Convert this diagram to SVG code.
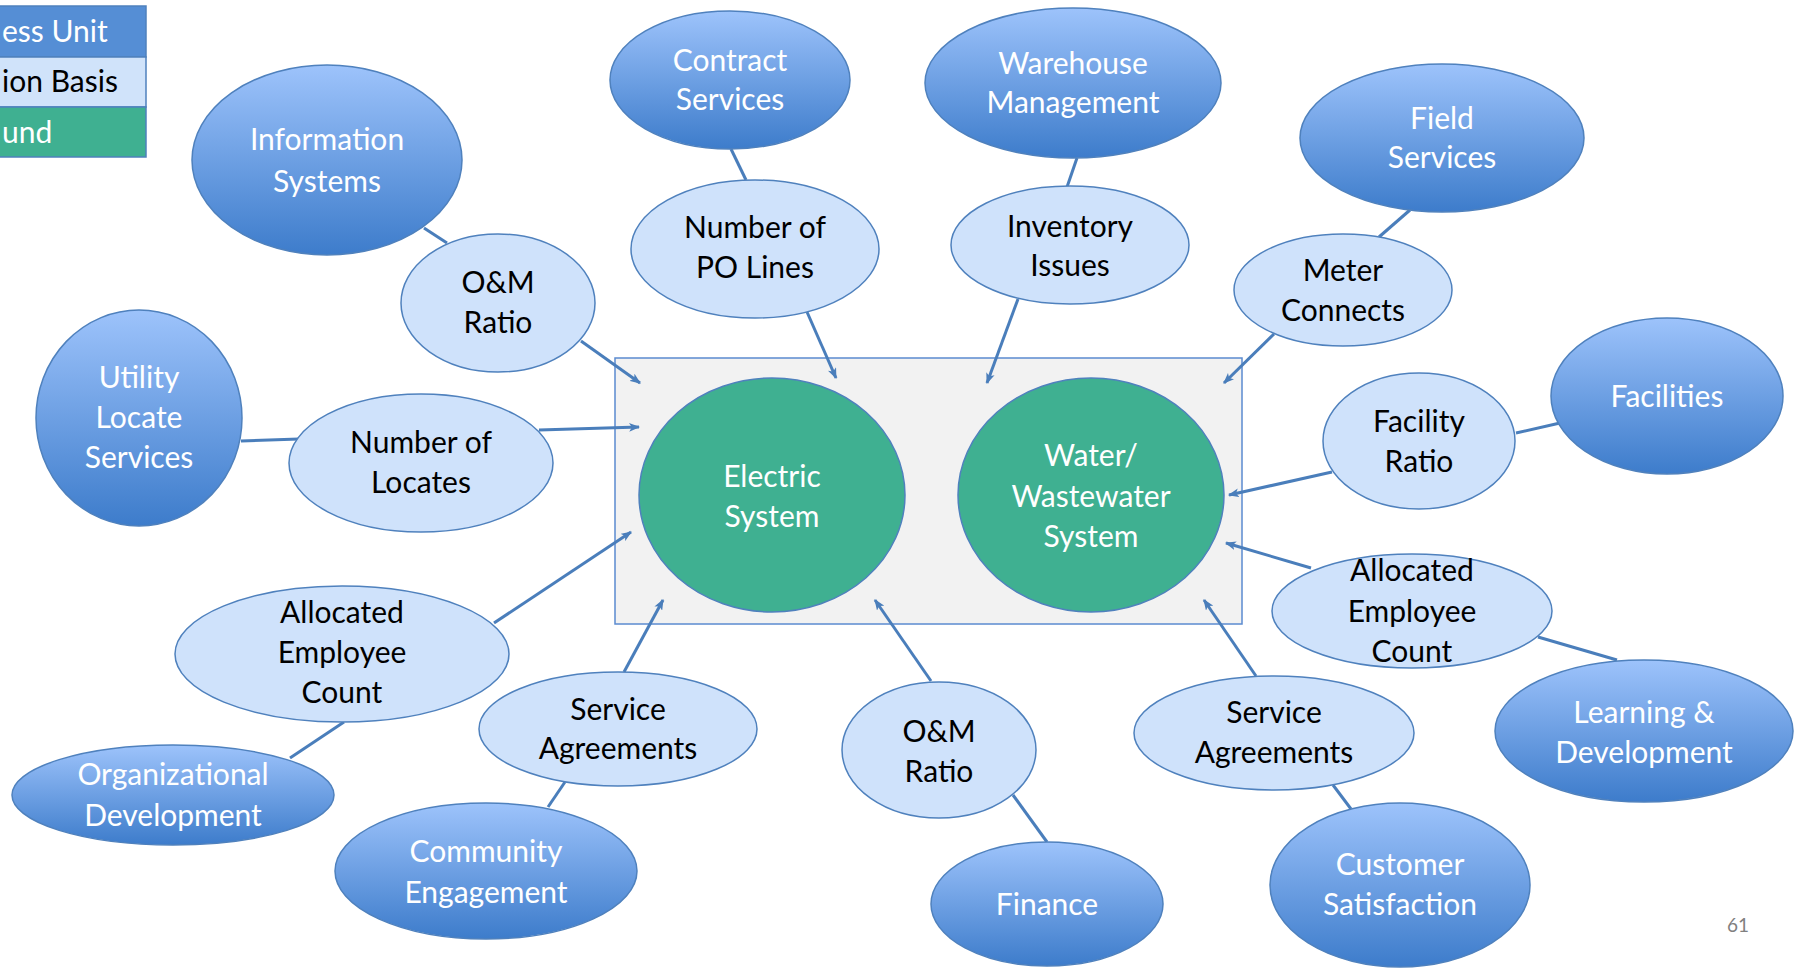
<svg xmlns="http://www.w3.org/2000/svg" width="1796" height="968" viewBox="0 0 1796 968">
<defs>
<linearGradient id="bu" x1="0" y1="0" x2="0" y2="1">
<stop offset="0" stop-color="#9DC3FB"/>
<stop offset="1" stop-color="#3D7CCB"/>
</linearGradient>
<marker id="ah" viewBox="0 0 10 8" refX="9" refY="4" markerWidth="11" markerHeight="9" markerUnits="userSpaceOnUse" orient="auto">
<path d="M0,0 L10,4 L0,8 L2.5,4 z" fill="#4A7EBB"/>
</marker>
</defs>
<style>
text{font-family:Lato,"Liberation Sans",sans-serif;font-size:30px;text-anchor:middle}
.bu ellipse{fill:url(#bu);stroke:#4F81BD;stroke-width:1.5}
.bu text{fill:#FFFFFF}
.ab ellipse{fill:#CFE2FB;stroke:#4F81BD;stroke-width:1.5}
.ab text{fill:#000000}
.fd ellipse{fill:#3FB091;stroke:#4F81BD;stroke-width:1.5}
.fd text{fill:#FFFFFF}
.ln line{stroke:#4A7EBB;stroke-width:3}
.ar line{stroke:#4A7EBB;stroke-width:3;marker-end:url(#ah)}
.lg{text-anchor:start}
</style>
<rect width="1796" height="968" fill="#FFFFFF"/>

<g id="legend">
<rect x="-2" y="6" width="148" height="51" fill="#558ED5" stroke="#4F81BD" stroke-width="1.5"/>
<rect x="-2" y="57" width="148" height="50" fill="#D0E3FA" stroke="#4F81BD" stroke-width="1.5"/>
<rect x="-2" y="107" width="148" height="50" fill="#3FB091" stroke="#4F81BD" stroke-width="1.5"/>
<text class="lg" x="2" y="42" fill="#FFFFFF">ess Unit</text>
<text class="lg" x="2" y="92" fill="#000000">ion Basis</text>
<text class="lg" x="2" y="143" fill="#FFFFFF">und</text>
</g>

<g id="box">
<rect x="615" y="358" width="627" height="266" fill="#F2F2F2" stroke="#5B8BD0" stroke-width="1.5"/>
</g>

<g id="connectors">
<g class="ln">
<line x1="424" y1="228" x2="447" y2="243"/>
<line x1="731" y1="149" x2="746" y2="180"/>
<line x1="1077" y1="158" x2="1067" y2="187"/>
<line x1="1410" y1="210" x2="1379" y2="237"/>
<line x1="1560" y1="423" x2="1516" y2="433"/>
<line x1="241" y1="441" x2="299" y2="439"/>
<line x1="344" y1="722" x2="290" y2="758"/>
<line x1="565" y1="782" x2="548" y2="807"/>
<line x1="1013" y1="795" x2="1047" y2="842"/>
<line x1="1333" y1="785" x2="1351" y2="809"/>
<line x1="1538" y1="637" x2="1617" y2="660"/>
</g>
<g class="ar">
<line x1="581" y1="341" x2="640" y2="383"/>
<line x1="539" y1="430" x2="639" y2="427"/>
<line x1="494" y1="623" x2="631" y2="532"/>
<line x1="624" y1="672" x2="663" y2="600"/>
<line x1="807" y1="312" x2="836" y2="378"/>
<line x1="931" y1="681" x2="875" y2="600"/>
<line x1="1018" y1="299" x2="987" y2="383"/>
<line x1="1274" y1="334" x2="1224" y2="383"/>
<line x1="1332" y1="472" x2="1229" y2="495"/>
<line x1="1311" y1="568" x2="1226" y2="543"/>
<line x1="1256" y1="676" x2="1204" y2="600"/>
</g>
</g>

<g id="electric" class="fd">
<ellipse cx="772" cy="495" rx="133" ry="117"/>
<text x="772" y="487">Electric</text>
<text x="772" y="527">System</text>
</g>
<g id="water" class="fd">
<ellipse cx="1091" cy="495" rx="133" ry="117"/>
<text x="1091" y="466">Water/</text>
<text x="1091" y="507">Wastewater</text>
<text x="1091" y="547">System</text>
</g>

<g id="info-systems" class="bu">
<ellipse cx="327" cy="160" rx="135" ry="95"/>
<text x="327" y="150">Information</text>
<text x="327" y="192">Systems</text>
</g>
<g id="contract-services" class="bu">
<ellipse cx="730" cy="80" rx="120" ry="69"/>
<text x="730" y="71">Contract</text>
<text x="730" y="110">Services</text>
</g>
<g id="warehouse" class="bu">
<ellipse cx="1073" cy="83" rx="148" ry="75"/>
<text x="1073" y="74">Warehouse</text>
<text x="1073" y="113">Management</text>
</g>
<g id="field-services" class="bu">
<ellipse cx="1442" cy="138" rx="142" ry="74"/>
<text x="1442" y="129">Field</text>
<text x="1442" y="168">Services</text>
</g>
<g id="facilities" class="bu">
<ellipse cx="1667" cy="396" rx="116" ry="78"/>
<text x="1667" y="407">Facilities</text>
</g>
<g id="learning" class="bu">
<ellipse cx="1644" cy="731" rx="149" ry="71"/>
<text x="1644" y="723">Learning &amp;</text>
<text x="1644" y="763">Development</text>
</g>
<g id="customer" class="bu">
<ellipse cx="1400" cy="885" rx="130" ry="82"/>
<text x="1400" y="875">Customer</text>
<text x="1400" y="915">Satisfaction</text>
</g>
<g id="finance" class="bu">
<ellipse cx="1047" cy="904" rx="116" ry="62"/>
<text x="1047" y="915">Finance</text>
</g>
<g id="community" class="bu">
<ellipse cx="486" cy="871" rx="151" ry="68"/>
<text x="486" y="862">Community</text>
<text x="486" y="903">Engagement</text>
</g>
<g id="org-dev" class="bu">
<ellipse cx="173" cy="795" rx="161" ry="50"/>
<text x="173" y="785">Organizational</text>
<text x="173" y="826">Development</text>
</g>
<g id="utility-locate" class="bu">
<ellipse cx="139" cy="418" rx="103" ry="108"/>
<text x="139" y="388">Utility</text>
<text x="139" y="428">Locate</text>
<text x="139" y="468">Services</text>
</g>

<g id="om-ratio-top" class="ab">
<ellipse cx="498" cy="303" rx="97" ry="69"/>
<text x="498" y="293">O&amp;M</text>
<text x="498" y="333">Ratio</text>
</g>
<g id="po-lines" class="ab">
<ellipse cx="755" cy="249" rx="124" ry="69"/>
<text x="755" y="238">Number of</text>
<text x="755" y="278">PO Lines</text>
</g>
<g id="inventory" class="ab">
<ellipse cx="1070" cy="245" rx="119" ry="59"/>
<text x="1070" y="237">Inventory</text>
<text x="1070" y="276">Issues</text>
</g>
<g id="meter" class="ab">
<ellipse cx="1343" cy="290" rx="109" ry="56"/>
<text x="1343" y="281">Meter</text>
<text x="1343" y="321">Connects</text>
</g>
<g id="facility-ratio" class="ab">
<ellipse cx="1419" cy="441" rx="96" ry="68"/>
<text x="1419" y="432">Facility</text>
<text x="1419" y="472">Ratio</text>
</g>
<g id="alloc-right" class="ab">
<ellipse cx="1412" cy="611" rx="140" ry="57"/>
<text x="1412" y="581">Allocated</text>
<text x="1412" y="622">Employee</text>
<text x="1412" y="662">Count</text>
</g>
<g id="svc-right" class="ab">
<ellipse cx="1274" cy="733" rx="140" ry="57"/>
<text x="1274" y="723">Service</text>
<text x="1274" y="763">Agreements</text>
</g>
<g id="om-ratio-bottom" class="ab">
<ellipse cx="939" cy="750" rx="97" ry="68"/>
<text x="939" y="742">O&amp;M</text>
<text x="939" y="782">Ratio</text>
</g>
<g id="svc-left" class="ab">
<ellipse cx="618" cy="729" rx="139" ry="57"/>
<text x="618" y="720">Service</text>
<text x="618" y="759">Agreements</text>
</g>
<g id="alloc-left" class="ab">
<ellipse cx="342" cy="654" rx="167" ry="68"/>
<text x="342" y="623">Allocated</text>
<text x="342" y="663">Employee</text>
<text x="342" y="703">Count</text>
</g>
<g id="locates" class="ab">
<ellipse cx="421" cy="463" rx="132" ry="69"/>
<text x="421" y="453">Number of</text>
<text x="421" y="493">Locates</text>
</g>

<text x="1738" y="932" style="font-size:19px;fill:#808080">61</text>
</svg>
